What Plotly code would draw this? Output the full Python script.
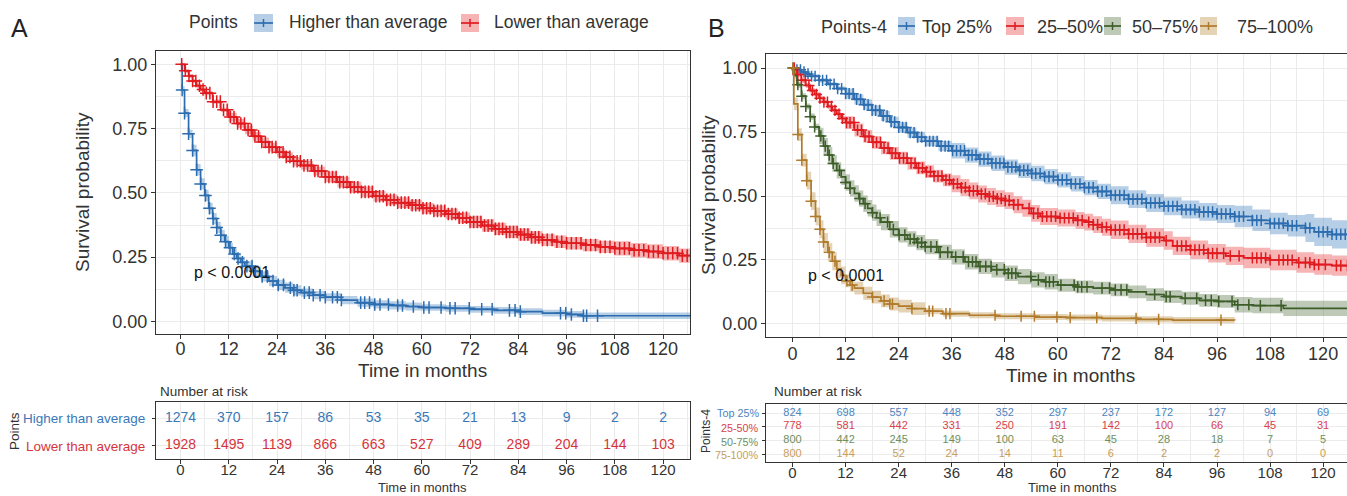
import plotly.graph_objects as go

W, H = 1347, 496
FONT = "Liberation Sans, Arial, Helvetica, sans-serif"
INK = "#333333"
GRID = "#ebebeb"

# ------------------------------------------------------------------ data
time_ticks = [0, 12, 24, 36, 48, 60, 72, 84, 96, 108, 120]
surv_ticks = [0.0, 0.25, 0.5, 0.75, 1.0]
surv_labels = ["0.00", "0.25", "0.50", "0.75", "1.00"]
p_text = "p < 0.0001"

# Panel A
a_title = "Points"
a_groups = ["Higher than average", "Lower than average"]

a_high_t = [0, 0.4, 1, 2, 3, 4, 5, 6, 7, 8, 9, 10, 11, 12, 13, 14, 15, 16, 18, 20,
            22, 24, 26, 28, 30, 33, 36, 40, 44, 48, 52, 56, 60, 66, 72, 78, 84, 90, 96, 100, 127]
a_high_s = [1.0, 0.90, 0.81, 0.73, 0.665, 0.59, 0.535, 0.49, 0.44, 0.40, 0.365, 0.335, 0.31, 0.287,
            0.262, 0.245, 0.23, 0.215, 0.195, 0.175, 0.157, 0.142, 0.131, 0.121, 0.112, 0.102, 0.094,
            0.083, 0.073, 0.066, 0.062, 0.058, 0.054, 0.051, 0.047, 0.043, 0.038, 0.032, 0.027, 0.022, 0.022]
a_high_ci_t = [0, 0.4, 3, 12, 30, 60]
a_high_ci_w = [0.0, 0.016, 0.022, 0.02, 0.016, 0.013]
a_high_cens = [0.4, 1, 2, 3, 4, 5, 6.2, 7.2, 8.1, 9, 10, 11.2, 12.3, 13.4, 14.3, 15.4, 16.5, 17.8, 18.6,
               20.3, 21.6, 23, 24.3, 25.6, 27.3, 28.2, 29, 30.8, 32, 33, 34.7, 36, 37.8, 39, 40, 44.8,
               45.8, 47, 48.3, 49.6, 51.7, 54, 55.2, 57.9, 60.5, 61.8, 64.8, 67, 68.3, 71.8, 74.9, 77.5,
               81.8, 83.2, 84.5, 94.5, 95.8, 97.2, 100.2, 101, 103.7]

a_low_t = [0, 1, 2, 3, 4, 5, 6, 8, 10, 12, 14, 16, 18, 20, 22, 24, 26, 28, 30, 33, 36, 39, 42, 45,
           48, 51, 54, 57, 60, 63, 66, 69, 72, 75, 78, 81, 84, 87, 90, 93, 96, 100, 104, 108, 112,
           116, 120, 124, 127]
a_low_s = [1.0, 0.975, 0.955, 0.935, 0.917, 0.902, 0.888, 0.855, 0.823, 0.795, 0.77, 0.745, 0.72,
           0.698, 0.678, 0.658, 0.64, 0.623, 0.607, 0.585, 0.562, 0.542, 0.522, 0.504, 0.487, 0.473,
           0.462, 0.452, 0.44, 0.43, 0.418, 0.403, 0.387, 0.373, 0.36, 0.348, 0.338, 0.327, 0.317,
           0.31, 0.304, 0.297, 0.29, 0.284, 0.277, 0.272, 0.265, 0.256, 0.248]
a_low_ci_t = [0, 1, 12, 36, 72, 108]
a_low_ci_w = [0.0, 0.008, 0.017, 0.021, 0.024, 0.028]
a_low_cens = [0.3, 1.2, 2.1, 3.0, 3.8, 4.7, 5.6, 6.4, 7.3, 8.1, 9.0, 9.9, 10.7, 11.6, 12.4, 13.3, 14.2,
              15.0, 15.9, 16.8, 17.6, 18.5, 19.4, 20.2, 21.1, 22.0, 22.8, 23.7, 24.6, 25.5, 26.3, 27.2,
              28.1, 29.0, 29.8, 30.7, 31.6, 32.5, 33.4, 34.2, 35.1, 36.0, 36.9, 37.8, 38.7, 39.6, 40.5,
              41.4, 42.3, 43.2, 44.1, 45.0, 45.9, 46.8, 47.7, 48.6, 49.5, 50.4, 51.3, 52.2, 53.1, 54.0,
              54.9, 55.8, 56.7, 57.6, 58.5, 59.4, 60.3, 61.2, 62.1, 63.0, 63.9, 64.8, 65.7, 66.6, 67.5,
              68.4, 69.3, 70.2, 71.1, 72.0, 72.9, 73.8, 74.7, 75.6, 76.5, 77.4, 78.3, 79.2, 80.1, 81.0,
              81.9, 82.8, 83.7, 84.6, 85.5, 86.4, 87.3, 88.2, 89.1, 90.0, 91.2, 92.4, 93.6, 94.8, 96.0,
              97.2, 98.4, 99.6, 100.8, 102.0, 103.2, 104.4, 105.6, 106.8, 108.0, 109.2, 110.4, 111.6,
              112.8, 114.0, 115.2, 116.4, 117.6, 118.8, 120.0, 121.2, 122.4, 123.6, 124.8, 126.0]

a_risk_high = [1274, 370, 157, 86, 53, 35, 21, 13, 9, 2, 2]
a_risk_low = [1928, 1495, 1139, 866, 663, 527, 409, 289, 204, 144, 103]

# Panel B
b_title = "Points-4"
b_groups = ["Top 25%", "25–50%", "50–75%", "75–100%"]
b_table_labels = ["Top 25%", "25-50%", "50-75%", "75-100%"]

b1_t = [0, 1, 2, 3, 4, 6, 8, 10, 12, 14, 16, 18, 20, 22, 24, 26, 28, 30, 33, 36, 39, 42, 45, 48, 51,
        54, 57, 60, 63, 66, 69, 72, 76, 80, 84, 88, 92, 96, 100, 104, 108, 112, 116, 118, 122, 126]
b1_s = [1.0, 0.993, 0.985, 0.977, 0.968, 0.952, 0.937, 0.92, 0.9, 0.878, 0.857, 0.835, 0.813, 0.79,
        0.768, 0.748, 0.73, 0.714, 0.695, 0.677, 0.66, 0.644, 0.628, 0.613, 0.6, 0.588, 0.576, 0.563,
        0.548, 0.533, 0.518, 0.503, 0.488, 0.473, 0.46, 0.447, 0.438, 0.43, 0.42, 0.405, 0.393, 0.384,
        0.375, 0.36, 0.35, 0.345]
b1_ci_t = [0, 1, 12, 36, 72, 100, 116]
b1_ci_w = [0.0, 0.008, 0.02, 0.03, 0.035, 0.042, 0.055]
b1_cens = [0.3, 1.0, 1.8, 2.6, 3.5, 4.3, 5.1, 6.0, 6.8, 7.7, 8.5, 9.4, 10.2, 11.1, 12.0, 12.8, 13.7,
           14.5, 15.4, 16.2, 17.1, 18.0, 18.8, 19.7, 20.5, 21.4, 22.3, 23.1, 24.0, 24.9, 25.7, 26.6,
           27.5, 28.3, 29.2, 30.1, 31.0, 31.8, 32.7, 33.6, 34.5, 35.3, 36.2, 37.1, 38.0, 38.9, 39.8,
           40.6, 41.5, 42.4, 43.3, 44.2, 45.1, 46.0, 46.9, 47.8, 48.7, 49.6, 50.5, 51.4, 52.3, 53.2,
           54.1, 55.0, 56.0, 57.0, 58.0, 59.0, 60.0, 61.0, 62.0, 63.0, 64.0, 65.0, 66.0, 67.0, 68.0,
           69.0, 70.0, 71.0, 72.0, 73.0, 74.0, 75.0, 76.0, 77.0, 78.0, 79.0, 80.0, 81.0, 82.0, 83.0,
           84.0, 85.0, 86.0, 87.0, 88.0, 89.0, 90.0, 91.0, 92.0, 93.0, 94.0, 95.0, 96.0, 97.0, 98.0,
           99.0, 100.0, 101.0, 102.0, 104.0, 105.0, 106.0, 108.0, 109.0, 110.0, 111.0, 112.0, 113.0,
           114.0, 116.0, 117.0, 119.0, 120.0, 121.0, 122.0, 123.0, 124.0, 125.0]

b2_t = [0, 1, 2, 3, 4, 5, 6, 7, 8, 9, 10, 11, 12, 14, 16, 18, 20, 22, 24, 26, 28, 30, 32, 34, 36, 38,
        40, 42, 44, 46, 48, 50, 52, 54, 56, 60, 64, 66, 68, 70, 72, 76, 80, 84, 86, 90, 94, 98, 102,
        108, 114, 118, 122, 126]
b2_s = [1.0, 0.975, 0.952, 0.932, 0.912, 0.897, 0.882, 0.867, 0.85, 0.835, 0.82, 0.803, 0.787, 0.758,
        0.733, 0.71, 0.688, 0.667, 0.648, 0.628, 0.61, 0.595, 0.578, 0.563, 0.548, 0.533, 0.52, 0.508,
        0.498, 0.49, 0.482, 0.466, 0.452, 0.432, 0.42, 0.414, 0.405, 0.398, 0.388, 0.378, 0.368, 0.352,
        0.338, 0.326, 0.305, 0.29, 0.276, 0.266, 0.258, 0.25, 0.24, 0.232, 0.228, 0.22]
b2_ci_t = [0, 1, 12, 36, 72, 100]
b2_ci_w = [0.0, 0.01, 0.025, 0.033, 0.036, 0.04]
b2_cens = [0.4, 1.2, 2.0, 2.9, 3.7, 4.5, 5.4, 6.2, 7.1, 7.9, 8.8, 9.6, 10.5, 11.3, 12.2, 13.0, 13.9,
           14.7, 15.6, 16.4, 17.3, 18.2, 19.0, 19.9, 20.7, 21.6, 22.5, 23.3, 24.2, 25.1, 25.9, 26.8,
           27.7, 28.5, 29.4, 30.3, 31.2, 32.0, 32.9, 33.8, 34.7, 35.5, 36.4, 37.3, 38.2, 39.1, 40.0,
           40.9, 41.8, 42.7, 43.6, 44.5, 45.4, 46.3, 47.2, 48.1, 49.0, 50.0, 51.0, 53.5, 54.5, 55.5,
           56.5, 57.5, 58.5, 59.5, 60.5, 61.5, 62.5, 63.5, 64.5, 65.5, 67.0, 68.0, 69.0, 70.0, 71.0,
           72.0, 73.0, 74.0, 75.0, 76.0, 77.0, 78.0, 79.0, 80.0, 81.0, 82.0, 83.0, 84.5, 87.0, 88.0,
           89.0, 90.0, 91.0, 92.0, 93.0, 94.0, 95.0, 96.0, 97.5, 99.0, 101.0, 104.0, 105.0, 106.0,
           107.0, 108.0, 110.0, 111.0, 112.0, 113.0, 114.5, 116.0, 117.0, 118.0, 119.0, 120.5, 123.0,
           124.0, 125.5]

b3_t = [0, 0.5, 1, 2, 3, 4, 5, 6, 7, 8, 9, 10, 11, 12, 13, 14, 15, 16, 17, 18, 19, 20, 22, 24, 26,
        28, 30, 33, 36, 39, 42, 45, 48, 51, 54, 57, 60, 64, 68, 72, 76, 80, 84, 88, 92, 96, 100, 104,
        111, 126]
b3_s = [1.0, 0.97, 0.935, 0.89, 0.85, 0.81, 0.77, 0.735, 0.695, 0.66, 0.627, 0.6, 0.575, 0.553, 0.53,
        0.51, 0.49, 0.47, 0.452, 0.435, 0.415, 0.398, 0.37, 0.348, 0.332, 0.318, 0.302, 0.28, 0.262,
        0.243, 0.225, 0.212, 0.198, 0.185, 0.172, 0.165, 0.152, 0.145, 0.14, 0.133, 0.125, 0.115,
        0.107, 0.1, 0.092, 0.088, 0.075, 0.072, 0.061, 0.061]
b3_ci_t = [0, 0.5, 6, 24, 60, 100]
b3_ci_w = [0.0, 0.012, 0.032, 0.03, 0.025, 0.03]
b3_cens = [0.1, 1.2, 2.1, 3.0, 4.0, 5.0, 6.4, 7.4, 8.3, 9.2, 10.6, 12.0, 13.0, 15.2, 16.4, 18.1, 19.8,
           21.5, 22.8, 24.1, 25.4, 26.6, 27.5, 28.3, 29.2, 30.0, 31.3, 32.6, 33.4, 35.1, 36.9, 38.6,
           39.8, 40.7, 41.5, 42.4, 43.7, 44.9, 46.2, 47.9, 48.8, 49.6, 50.5, 53.9, 55.6, 57.3, 58.1,
           59.0, 60.7, 63.7, 64.5, 65.4, 66.6, 70.0, 71.7, 73.0, 74.3, 75.6, 81.9, 84.5, 85.4, 88.8,
           91.4, 93.4, 94.7, 96.4, 99.4, 100.7, 103.2, 105.8, 110.5]

b4_t = [0, 0.3, 1.2, 2.1, 3.2, 4.2, 5.2, 6.2, 7, 8, 9, 10, 11, 12, 13, 14, 16, 18, 20, 22, 24, 27,
        30, 34, 40, 46, 55, 62, 70, 78, 86, 100]
b4_s = [1.0, 0.86, 0.74, 0.64, 0.56, 0.48, 0.42, 0.37, 0.32, 0.28, 0.245, 0.215, 0.19, 0.168, 0.152,
        0.14, 0.12, 0.105, 0.09, 0.078, 0.07, 0.06, 0.05, 0.04, 0.034, 0.03, 0.027, 0.025, 0.022,
        0.018, 0.015, 0.014]
b4_ci_t = [0, 0.3, 3, 12, 30]
b4_ci_w = [0.0, 0.025, 0.035, 0.025, 0.012]
b4_cens = [0.1, 1.2, 2.1, 3.2, 4.2, 5.2, 6.2, 7.0, 8.3, 9.6, 12.3, 13.5, 18.1, 20.7, 22.0, 22.6, 27.0,
           30.9, 31.7, 34.7, 35.6, 45.8, 51.7, 54.7, 59.8, 62.8, 68.8, 77.7, 82.8, 96.9]

b_risk_1 = [824, 698, 557, 448, 352, 297, 237, 172, 127, 94, 69]
b_risk_2 = [778, 581, 442, 331, 250, 191, 142, 100, 66, 45, 31]
b_risk_3 = [800, 442, 245, 149, 100, 63, 45, 28, 18, 7, 5]
b_risk_4 = [800, 144, 52, 24, 14, 11, 6, 2, 2, 0, 0]

# ------------------------------------------------------------------ styles
BLUE, RED, GREEN, TAN = "#2c6db0", "#e01a1f", "#3d5e29", "#b07b2b"
BLUE_F, RED_F = "rgba(46,117,182,0.35)", "rgba(228,26,28,0.33)"
GREEN_F, TAN_F = "rgba(70,100,50,0.35)", "rgba(180,128,45,0.35)"
TXT_A = ["#3a78b7", "#d6343a"]
TXT_B = ["#4a84bf", "#d8434a", "#6d8f5d", "#c89d5a"]


def px_x(p):
    return p / W


def px_y(p):
    return 1 - p / H


def step_value(ts, vs, x):
    v = vs[0]
    for t, s in zip(ts, vs):
        if t <= x:
            v = s
        else:
            break
    return v


fig = go.Figure()


def add_band(t, s, ci_t, ci_w, fill, xa, ya):
    lo = [max(0.0, v - step_value(ci_t, ci_w, x)) for x, v in zip(t, s)]
    hi = [min(1.0, v + step_value(ci_t, ci_w, x)) for x, v in zip(t, s)]
    fig.add_trace(go.Scatter(x=t, y=lo, mode="lines", line=dict(width=0, shape="hv", color=fill),
                             xaxis=xa, yaxis=ya, hoverinfo="skip", showlegend=False))
    fig.add_trace(go.Scatter(x=t, y=hi, mode="lines", line=dict(width=0, shape="hv", color=fill),
                             fill="tonexty", fillcolor=fill, xaxis=xa, yaxis=ya,
                             hoverinfo="skip", showlegend=False))


def add_line(t, s, cens, color, xa, ya, msize):
    fig.add_trace(go.Scatter(x=t, y=s, mode="lines", line=dict(color=color, width=1.7, shape="hv"),
                             xaxis=xa, yaxis=ya, showlegend=False))
    fig.add_trace(go.Scatter(x=cens, y=[step_value(t, s, c) for c in cens], mode="markers",
                             marker=dict(symbol="cross-thin", size=msize, color=color,
                                         line=dict(color=color, width=1.5)),
                             xaxis=xa, yaxis=ya, showlegend=False))


# Panel A curves
add_band(a_high_t, a_high_s, a_high_ci_t, a_high_ci_w, BLUE_F, "x", "y")
add_band(a_low_t, a_low_s, a_low_ci_t, a_low_ci_w, RED_F, "x", "y")
add_line(a_high_t, a_high_s, a_high_cens, BLUE, "x", "y", 9)
add_line(a_low_t, a_low_s, a_low_cens, RED, "x", "y", 9)

# Panel B curves
b_series = [(b1_t, b1_s, b1_ci_t, b1_ci_w, b1_cens, BLUE, BLUE_F),
            (b2_t, b2_s, b2_ci_t, b2_ci_w, b2_cens, RED, RED_F),
            (b3_t, b3_s, b3_ci_t, b3_ci_w, b3_cens, GREEN, GREEN_F),
            (b4_t, b4_s, b4_ci_t, b4_ci_w, b4_cens, TAN, TAN_F)]
for t, s, ct, cw, cz, c, f in b_series:
    add_band(t, s, ct, cw, f, "x3", "y3")
for t, s, ct, cw, cz, c, f in b_series:
    add_line(t, s, cz, c, "x3", "y3", 8)

# Risk tables
a_rows = [a_risk_high, a_risk_low]
for i, row in enumerate(a_rows):
    fig.add_trace(go.Scatter(x=time_ticks, y=[len(a_rows) - i] * len(time_ticks), mode="text",
                             text=[str(v) for v in row],
                             textfont=dict(size=14, color=TXT_A[i], family=FONT),
                             xaxis="x2", yaxis="y2", cliponaxis=False, showlegend=False))
b_rows = [b_risk_1, b_risk_2, b_risk_3, b_risk_4]
for i, row in enumerate(b_rows):
    fig.add_trace(go.Scatter(x=time_ticks, y=[len(b_rows) - i] * len(time_ticks), mode="text",
                             text=[str(v) for v in row],
                             textfont=dict(size=11, color=TXT_B[i], family=FONT),
                             xaxis="x4", yaxis="y4", cliponaxis=False, showlegend=False))

minor_times = [(a + b) / 2 for a, b in zip(time_ticks[:-1], time_ticks[1:])] + [time_ticks[-1] + 6]
minor_surv = [(a + b) / 2 for a, b in zip(surv_ticks[:-1], surv_ticks[1:])]


def xaxis(domain, rng, fsize, anchor, standoff):
    return dict(domain=domain, range=rng, anchor=anchor, tickmode="array", tickvals=time_ticks,
                ticktext=[str(v) for v in time_ticks], ticks="outside", ticklen=4, tickwidth=1,
                tickcolor=INK, tickfont=dict(size=fsize, color=INK, family=FONT),
                ticklabelstandoff=standoff,
                showline=True, mirror=True, linecolor=INK, linewidth=1.2,
                showgrid=True, gridcolor=GRID, gridwidth=1, zeroline=False,
                minor=dict(tickmode="array", tickvals=minor_times, showgrid=True, gridcolor=GRID,
                           gridwidth=0.7, ticks=""),
                fixedrange=True)


def yaxis_main(domain, rng, anchor, mirror):
    return dict(domain=domain, range=rng, anchor=anchor, tickmode="array", tickvals=surv_ticks,
                ticktext=surv_labels, ticks="outside", ticklen=4, tickwidth=1, tickcolor=INK,
                tickfont=dict(size=18, color=INK, family=FONT), showline=True, mirror=mirror,
                linecolor=INK, linewidth=1.2, showgrid=True, gridcolor=GRID, gridwidth=1,
                zeroline=False,
                minor=dict(tickmode="array", tickvals=minor_surv, showgrid=True, gridcolor=GRID,
                           gridwidth=0.7, ticks=""),
                fixedrange=True)


def yaxis_table(domain, rng, n, anchor, mirror):
    return dict(domain=domain, range=rng, anchor=anchor, tickmode="array",
                tickvals=list(range(1, n + 1)), showticklabels=False, ticks="outside", ticklen=3,
                tickcolor=INK, showline=True, mirror=mirror, linecolor=INK, linewidth=1.2,
                showgrid=True, gridcolor=GRID, gridwidth=1, zeroline=False, fixedrange=True)


A_X = [px_x(156), px_x(690)]
B_X = [px_x(766), 1.0]
fig.update_layout(
    width=W, height=H, margin=dict(l=0, r=0, t=0, b=0),
    paper_bgcolor="white", plot_bgcolor="white", showlegend=False,
    font=dict(family=FONT, color=INK),
    xaxis=xaxis(A_X, [-6.1, 126.7], 18, "y", -6),
    yaxis=yaxis_main([px_y(334), px_y(51)], [-0.049, 1.052], "x", True),
    xaxis2=xaxis(A_X, [-6.1, 126.7], 15, "y2", -7),
    yaxis2=yaxis_table([px_y(459), px_y(402)], [0.48, 2.63], 2, "x2", True),
    xaxis3=xaxis(B_X, [-6.0, 125.4], 18, "y3", -4),
    yaxis3=yaxis_main([px_y(337), px_y(54)], [-0.051, 1.055], "x3", False),
    xaxis4=xaxis(B_X, [-6.0, 125.4], 15, "y4", -7),
    yaxis4=yaxis_table([px_y(462), px_y(404)], [0.42, 4.66], 4, "x4", False),
)

ann = []


def text(xp, yp, s, size, color=INK, xanchor="center", angle=0):
    ann.append(dict(x=px_x(xp), y=px_y(yp), xref="paper", yref="paper", text=s, showarrow=False,
                    xanchor=xanchor, yanchor="middle", textangle=angle,
                    font=dict(size=size, color=color, family=FONT)))


# panel letters
text(9, 28, "A", 25, "#222222", "left")
text(706, 28, "B", 25, "#222222", "left")
# axis titles
text(423, 370, "Time in months", 19)
text(1070, 375, "Time in months", 19)
text(82, 192, "Survival probability", 19, angle=-90)
text(709, 195, "Survival probability", 19, angle=-90)
# table titles
text(158, 391, "Number at risk", 13.5, xanchor="left")
text(772, 391, "Number at risk", 13.5, xanchor="left")
text(423, 487.5, "Time in months", 13)
text(1072, 487.5, "Time in months", 13)
# table row labels
for i, lab in enumerate(a_groups):
    text(147, [418, 446][i], lab, 13.5, TXT_A[i], "right")
text(14, 431, a_title, 13.5, angle=-90)
for i, lab in enumerate(b_table_labels):
    text(761, [413, 428, 442, 455][i], lab, 10.8, TXT_B[i], "right")
text(706, 431, b_title, 12, angle=-90)
# p-values
ann.append(dict(x=2.8, y=0.19, xref="x", yref="y", text=p_text, showarrow=False, xanchor="left",
                yanchor="middle", font=dict(size=16, color="#111111", family=FONT)))
ann.append(dict(x=3.0, y=0.188, xref="x3", yref="y3", text=p_text, showarrow=False, xanchor="left",
                yanchor="middle", font=dict(size=16, color="#111111", family=FONT)))

# legends (drawn)
shapes = []


def key(x0, x1, y0, y1, line_c, fill_c):
    shapes.append(dict(type="rect", xref="paper", yref="paper", x0=px_x(x0), x1=px_x(x1),
                       y0=px_y(y1), y1=px_y(y0), fillcolor=fill_c, line=dict(width=0)))
    ym = (y0 + y1) / 2
    xm = (x0 + x1) / 2
    shapes.append(dict(type="line", xref="paper", yref="paper", x0=px_x(x0), x1=px_x(x1),
                       y0=px_y(ym), y1=px_y(ym), line=dict(color=line_c, width=1.7)))
    shapes.append(dict(type="line", xref="paper", yref="paper", x0=px_x(xm), x1=px_x(xm),
                       y0=px_y(ym - 4), y1=px_y(ym + 4), line=dict(color=line_c, width=1.5)))


text(187, 22, a_title, 17.5, xanchor="left")
key(254, 273, 14, 32, BLUE, BLUE_F)
text(287, 22, a_groups[0], 17.5, xanchor="left")
key(461, 479, 14, 32, RED, RED_F)
text(492, 22, a_groups[1], 17.5, xanchor="left")

text(819, 27, b_title, 18, xanchor="left")
b_keys = [(898, 915, 920), (1006, 1024, 1035), (1104, 1121, 1130), (1200, 1217, 1235)]
for (k0, k1, tx), lab, (t, s, ct, cw, cz, c, f) in zip(b_keys, b_groups, b_series):
    key(k0, k1, 17, 35, c, f)
    text(tx, 27, lab, 18, xanchor="left")

fig.update_layout(annotations=ann, shapes=shapes)
fig.write_html("out.html")
